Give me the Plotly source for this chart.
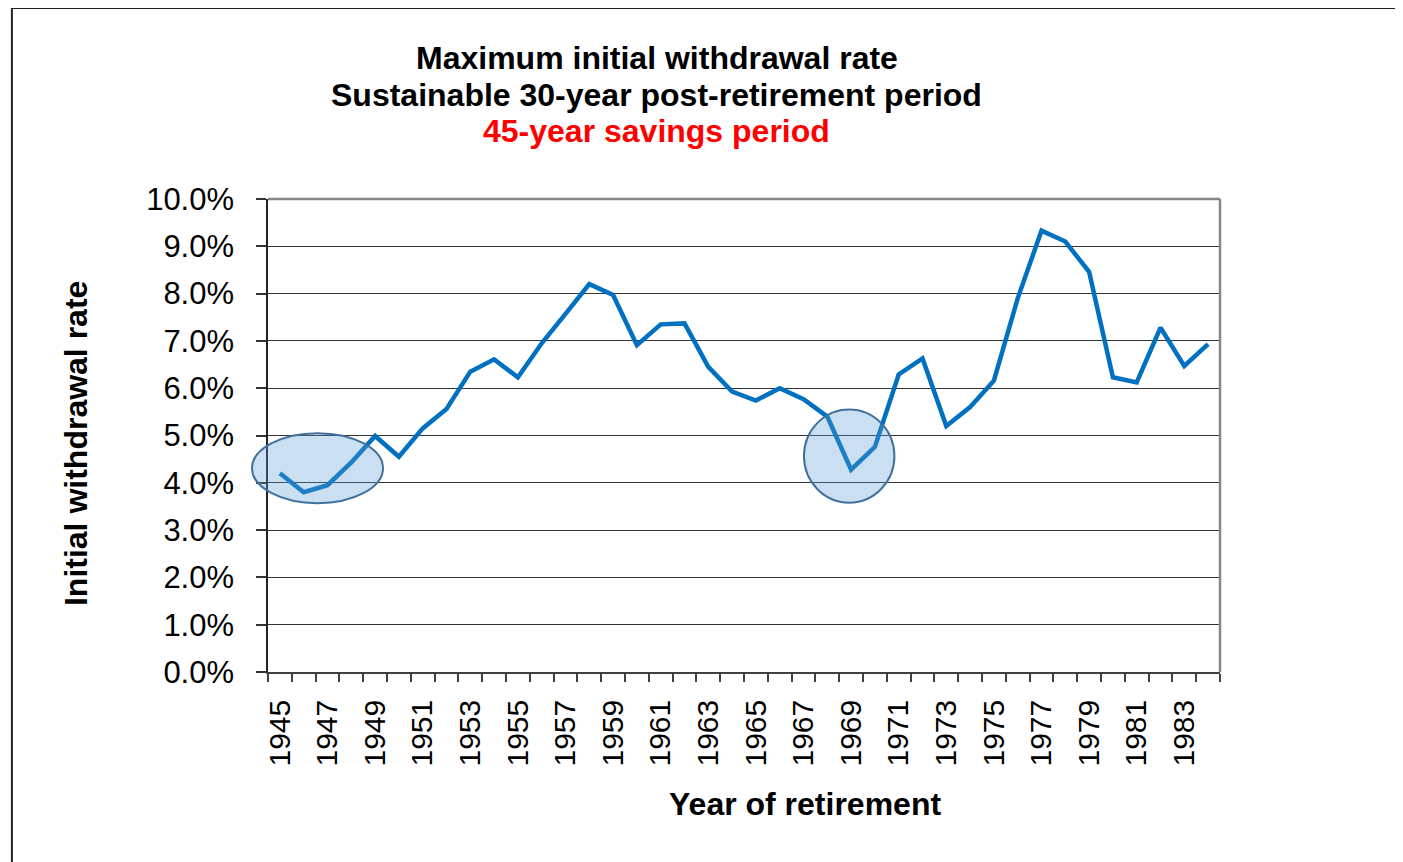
import plotly.graph_objects as go

years = list(range(1945, 1985))
rate = [4.20, 3.80, 3.95, 4.43, 4.99, 4.55, 5.15, 5.56, 6.35, 6.61,
        6.23, 6.95, 7.57, 8.20, 7.97, 6.91, 7.35, 7.37, 6.45, 5.93,
        5.74, 6.00, 5.77, 5.40, 4.28, 4.76, 6.29, 6.63, 5.20, 5.60,
        6.16, 7.90, 9.33, 9.10, 8.46, 6.23, 6.12, 7.28, 6.47, 6.93]
tick_years = list(range(1945, 1985, 2))
title_lines = ["Maximum initial withdrawal rate",
               "Sustainable 30-year post-retirement period",
               "45-year savings period"]

FONT = "Arial, Liberation Sans, sans-serif"

fig = go.Figure()
fig.add_trace(go.Scatter(x=years, y=rate, mode="lines",
                         line=dict(color="#0070c0", width=4.5), showlegend=False))

# Edit the layout (page body has an 8px margin, so offsets are reduced)
fig.update_layout(
    width=1395, height=854,
    margin=dict(l=260, r=183, t=191, b=190),
    paper_bgcolor="white", plot_bgcolor="white",
    font=dict(family=FONT, size=30, color="black"),
    xaxis=dict(range=[1944.5, 1984.5], tickvals=tick_years, ticktext=[str(y) for y in tick_years],
               tickangle=-90, ticks="", ticklabelstandoff=14, showgrid=False, zeroline=False,
               showline=True, linecolor="#404040", linewidth=1.5,
               minor=dict(tick0=1944.5, dtick=1, ticks="outside", ticklen=8,
                          tickcolor="#404040", tickwidth=1.5, showgrid=False),
               tickfont=dict(size=30)),
    yaxis=dict(range=[0, 10], dtick=1, tickformat=".1f", ticksuffix="%",
               ticks="outside", ticklen=10, tickcolor="#333", tickwidth=1.5,
               ticklabelstandoff=16,
               showgrid=True, gridcolor="#333", gridwidth=1, zeroline=False,
               showline=True, linecolor="#222", linewidth=1.5,
               tickfont=dict(size=31)),
)

# plot frame top / right in gray
fig.add_shape(type="line", xref="paper", yref="paper", x0=0, x1=1, y0=1, y1=1,
              line=dict(color="#868686", width=2.5))
fig.add_shape(type="line", xref="paper", yref="paper", x0=1, x1=1, y0=0, y1=1,
              line=dict(color="#868686", width=2.5))
# outer chart-area frame (cropped)
fig.add_shape(type="line", xref="paper", yref="paper", x0=-0.269, x1=1.3, y0=1.404, y1=1.404,
              line=dict(color="#222", width=2))
fig.add_shape(type="line", xref="paper", yref="paper", x0=-0.269, x1=-0.269, y0=-0.5, y1=1.404,
              line=dict(color="#222", width=2))

# highlight ellipses (domain refs so the left one can spill past the y axis)
fig.add_shape(type="circle", xref="x domain", yref="y domain", x0=-0.0168, x1=0.1208, y0=0.357, y1=0.505,
              fillcolor="rgba(91,155,213,0.32)", line=dict(color="#41719c", width=2), layer="above")
fig.add_shape(type="circle", xref="x domain", yref="y domain", x0=0.563, x1=0.658, y0=0.358, y1=0.555,
              fillcolor="rgba(91,155,213,0.32)", line=dict(color="#41719c", width=2), layer="above")

# titles
for txt, yy, col in zip(title_lines, [1.298, 1.220, 1.144], ["black", "black", "#ff0000"]):
    fig.add_annotation(text="<b>" + txt + "</b>", xref="paper", yref="paper", x=0.4086, y=yy,
                       xanchor="center", yanchor="middle", showarrow=False,
                       font=dict(size=32, color=col, family=FONT))
fig.add_annotation(text="<b>Initial withdrawal rate</b>", xref="paper", yref="paper", x=-0.2017, y=0.484,
                   textangle=-90, xanchor="center", yanchor="middle", showarrow=False,
                   font=dict(size=32, family=FONT))
fig.add_annotation(text="<b>Year of retirement</b>", xref="paper", yref="paper", x=0.564, y=-0.279,
                   xanchor="center", yanchor="middle", showarrow=False,
                   font=dict(size=32, family=FONT))

fig.write_html("out.html")
